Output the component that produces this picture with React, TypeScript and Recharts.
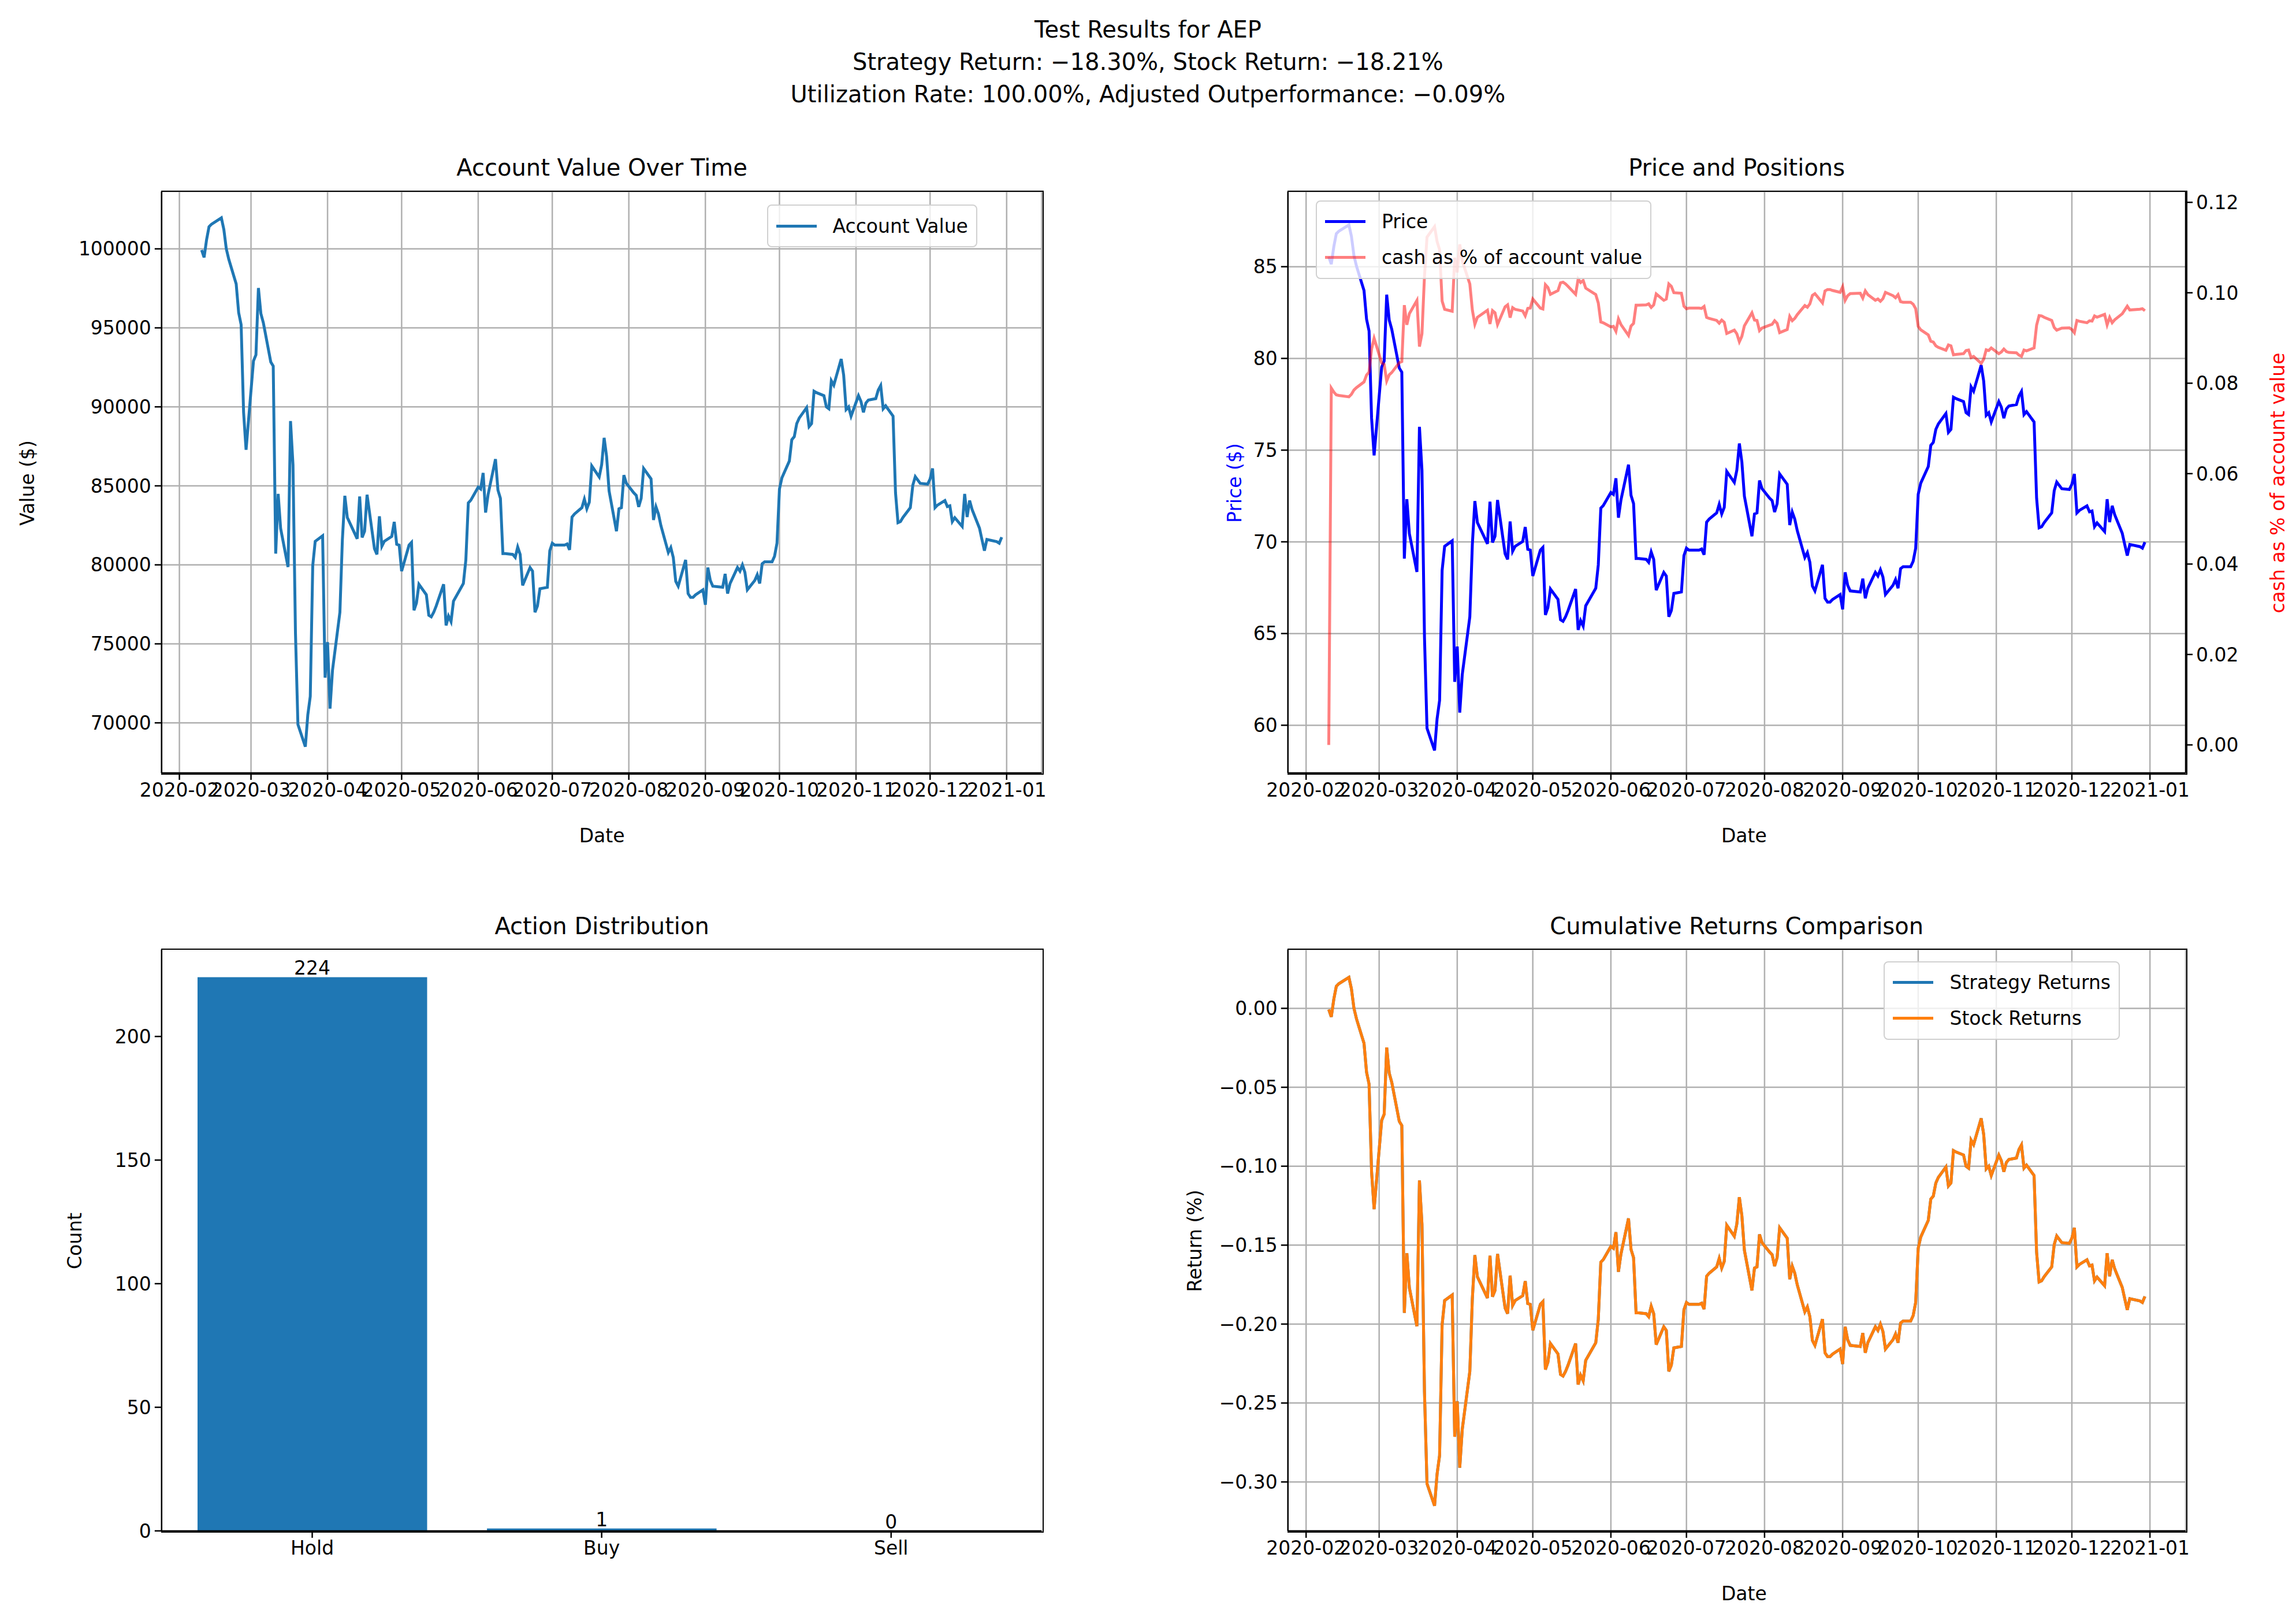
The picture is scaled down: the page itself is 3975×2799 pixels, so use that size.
import React from "react";
import {
  LineChart, Line, ComposedChart, Bar, XAxis, YAxis, CartesianGrid, LabelList,
} from "recharts";

// trading days and account value
const dates = [
  "2020-02-10","2020-02-11","2020-02-12","2020-02-13","2020-02-14","2020-02-18","2020-02-19","2020-02-20","2020-02-21",
  "2020-02-24","2020-02-25","2020-02-26","2020-02-27","2020-02-28",
  "2020-03-02","2020-03-03","2020-03-04","2020-03-05","2020-03-06","2020-03-09","2020-03-10","2020-03-11","2020-03-12","2020-03-13",
  "2020-03-16","2020-03-17","2020-03-18","2020-03-19","2020-03-20","2020-03-23","2020-03-24","2020-03-25","2020-03-26","2020-03-27",
  "2020-03-30","2020-03-31","2020-04-01","2020-04-02","2020-04-03","2020-04-06","2020-04-07","2020-04-08","2020-04-09",
  "2020-04-13","2020-04-14","2020-04-15","2020-04-16","2020-04-17","2020-04-20","2020-04-21","2020-04-22","2020-04-23","2020-04-24",
  "2020-04-27","2020-04-28","2020-04-29","2020-04-30","2020-05-01","2020-05-04","2020-05-05","2020-05-06","2020-05-07","2020-05-08",
  "2020-05-11","2020-05-12","2020-05-13","2020-05-14","2020-05-15","2020-05-18","2020-05-19","2020-05-20","2020-05-21","2020-05-22",
  "2020-05-26","2020-05-27","2020-05-28","2020-05-29","2020-06-01","2020-06-02","2020-06-03","2020-06-04","2020-06-05",
  "2020-06-08","2020-06-09","2020-06-10","2020-06-11","2020-06-12","2020-06-15","2020-06-16","2020-06-17","2020-06-18","2020-06-19",
  "2020-06-22","2020-06-23","2020-06-24","2020-06-25","2020-06-26","2020-06-29","2020-06-30","2020-07-01","2020-07-02",
  "2020-07-06","2020-07-07","2020-07-08","2020-07-09","2020-07-10","2020-07-13","2020-07-14","2020-07-15","2020-07-16","2020-07-17",
  "2020-07-20","2020-07-21","2020-07-22","2020-07-23","2020-07-24","2020-07-27","2020-07-28","2020-07-29","2020-07-30","2020-07-31",
  "2020-08-03","2020-08-04","2020-08-05","2020-08-06","2020-08-07","2020-08-10","2020-08-11","2020-08-12","2020-08-13","2020-08-14",
  "2020-08-17","2020-08-18","2020-08-19","2020-08-20","2020-08-21","2020-08-24","2020-08-25","2020-08-26","2020-08-27","2020-08-28",
  "2020-08-31","2020-09-01","2020-09-02","2020-09-03","2020-09-04","2020-09-08","2020-09-09","2020-09-10","2020-09-11",
  "2020-09-14","2020-09-15","2020-09-16","2020-09-17","2020-09-18","2020-09-21","2020-09-22","2020-09-23","2020-09-24","2020-09-25",
  "2020-09-28","2020-09-29","2020-09-30","2020-10-01","2020-10-02","2020-10-05","2020-10-06","2020-10-07","2020-10-08","2020-10-09",
  "2020-10-12","2020-10-13","2020-10-14","2020-10-15","2020-10-16","2020-10-19","2020-10-20","2020-10-21","2020-10-22","2020-10-23",
  "2020-10-26","2020-10-27","2020-10-28","2020-10-29","2020-10-30","2020-11-02","2020-11-03","2020-11-04","2020-11-05","2020-11-06",
  "2020-11-09","2020-11-10","2020-11-11","2020-11-12","2020-11-13","2020-11-16","2020-11-17","2020-11-18","2020-11-19","2020-11-20",
  "2020-11-23","2020-11-24","2020-11-25","2020-11-27","2020-11-30","2020-12-01","2020-12-02","2020-12-03","2020-12-04",
  "2020-12-07","2020-12-08","2020-12-09","2020-12-10","2020-12-11","2020-12-14","2020-12-15","2020-12-16","2020-12-17","2020-12-18",
  "2020-12-21","2020-12-22","2020-12-23","2020-12-24","2020-12-28","2020-12-29","2020-12-30",
];

const accountValue = [
  99930, 99460, 100570, 101400, 101560, 101960, 101230, 100000, 99340,
  97780, 95960, 95200, 89650, 87280,
  92900, 93290, 97520, 95900, 95320, 92840, 92580, 80710, 84490, 82300,
  79860, 89100, 86330, 75700, 69900, 68490, 70500, 71680, 79950, 81490,
  81840, 72860, 75110, 70900, 73330, 77000, 81600, 84370, 83000,
  81650, 84330, 81730, 82130, 84440, 81020, 80660, 83070, 81180, 81490,
  81800, 82720, 81300, 81250, 79600, 81250, 81420, 77120, 77590, 78770,
  78110, 76810, 76710, 77000, 77400, 78770, 76170, 76760, 76410, 77700,
  78820, 80310, 83920, 84090, 84920, 84800, 85820, 83310, 84440,
  86690, 84730, 84210, 80710, 80710, 80660, 80470, 81130, 80660, 78700,
  79830, 79600, 77000, 77400, 78490, 78580, 80900, 81370, 81250,
  81250, 81320, 80950, 83030, 83220, 83620, 84160, 83550, 83970, 86260,
  85560, 86340, 88040, 86860, 84680, 82130, 83550, 83620, 85680, 85160,
  84560, 84400, 83670, 84210, 86100, 85440, 82840, 83670, 83220, 82480,
  80780, 81090, 80470, 78960, 78650, 80310, 78180, 77940, 77940, 78100,
  78420, 77470, 79830, 79010, 78650, 78580, 79430, 78180, 78820,
  79830, 79600, 80000, 79530, 78420, 79010, 79370, 78820, 80070, 80190,
  80190, 80540, 81370, 84800, 85510, 86570, 87920, 88110, 88940, 89290,
  89950, 88750, 88940, 90990, 90900, 90710, 90000, 89880, 91650, 91370,
  93030, 92010, 89830, 90000, 89410, 90710, 90350, 89650, 90240, 90430,
  90520, 91060, 91350, 89880, 90070, 89410, 84560, 82670, 82740, 83000,
  83620, 85040, 85580, 85160, 85110, 85440, 86100, 83620, 83780,
  84070, 83690, 83740, 82740, 82980, 82430, 84490, 83030, 84070, 83500,
  82320, 81600, 80900, 81610, 81470, 81370, 81750,
];

const startCapital = 100000;
const startPrice = 85.6;
const cashHeld = 7850; // cash line = fixed cash / account value

const actions = ["Hold", "Buy", "Sell"];
const actionCounts = [224, 1, 0];

const monthTicks = [
  "2020-02-01","2020-03-01","2020-04-01","2020-05-01","2020-06-01","2020-07-01",
  "2020-08-01","2020-09-01","2020-10-01","2020-11-01","2020-12-01","2021-01-01",
];
const valueTicks = [70000, 75000, 80000, 85000, 90000, 95000, 100000];
const priceTicks = [60, 65, 70, 75, 80, 85];
const cashTicks = [0, 0.02, 0.04, 0.06, 0.08, 0.1, 0.12];
const countTicks = [0, 50, 100, 150, 200];
const returnTicks = [-0.3, -0.25, -0.2, -0.15, -0.1, -0.05, 0];

const ts = (d: string) => Date.parse(d + "T00:00:00Z");
const series = dates.map((d, i) => {
  const v = accountValue[i];
  const r = v / startCapital - 1;
  return {
    t: ts(d),
    value: v,
    price: startPrice * (1 + r),
    cash: i === 0 ? 0 : cashHeld / v,
    strategy: r,
    stock: r,
  };
});
const barData = actions.map((a, i) => ({ name: a, count: actionCounts[i] }));

const DAY = 86400000;
const xDomain = [ts(dates[0]) - 16.2 * DAY, ts(dates[dates.length - 1]) + 16.2 * DAY];
const xTicks = monthTicks.map(ts);
const fmtMonth = (t: number) => new Date(t).toISOString().slice(0, 7);

const S = 2.548;
const FONT = "DejaVu Sans, sans-serif";
const TICK = { fontSize: 33, fill: "#000", fontFamily: FONT };
const GRID = "#b0b0b0";
const BLUE = "#1f77b4";
const ORANGE = "#ff7f0e";
const minus = (s: string) => s.replace("-", "\u2212");

type Box = { l: number; t: number; r: number; b: number };
const TL: Box = { l: 110, t: 130, r: 708, b: 525 };
const TR: Box = { l: 875, t: 130, r: 1485, b: 525 };
const BL: Box = { l: 110, t: 645, r: 708, b: 1040 };
const BR: Box = { l: 875, t: 645, r: 1485, b: 1040 };

const LEFTW = 100, TOPPAD = 10, BOTH = 40, RIGHTW = 70;

function frame(b: Box, rightAxis = false) {
  const w = LEFTW + (b.r - b.l) + (rightAxis ? RIGHTW : 10);
  const h = TOPPAD + (b.b - b.t) + BOTH;
  return {
    style: { position: "absolute" as const, left: (b.l - LEFTW) * S, top: (b.t - TOPPAD) * S },
    width: w * S,
    height: h * S,
    margin: { top: TOPPAD * S, right: rightAxis ? 0 : 10 * S, left: 0, bottom: 0 },
  };
}

const Spine = ({ b }: { b: Box }) => (
  <div style={{
    position: "absolute", left: b.l * S - 1, top: b.t * S - 1,
    width: (b.r - b.l) * S, height: (b.b - b.t) * S,
    border: "2.5px solid #000", pointerEvents: "none",
  }} />
);

const Text = ({ x, y, children, size = 33, rotate = 0, color = "#000", lh = 1.25 }: any) => (
  <div style={{
    position: "absolute", left: x * S, top: y * S, fontSize: size, color, fontFamily: FONT,
    transform: `translate(-50%, -50%) rotate(${rotate}deg)`, whiteSpace: "nowrap", lineHeight: lh,
    textAlign: "center",
  }}>{children}</div>
);

const Legend = ({ x, y, items }: { x: number; y: number; items: { label: string; color: string; opacity?: number }[] }) => (
  <div style={{
    position: "absolute", left: x * S, top: y * S, background: "rgba(255,255,255,0.8)",
    border: "2px solid #d0d0d0", borderRadius: 8, padding: "4px 14px", fontFamily: FONT, fontSize: 33,
  }}>
    {items.map((it) => (
      <div key={it.label} style={{ display: "flex", alignItems: "center", height: 62 }}>
        <div style={{ width: 70, height: 5, background: it.color, opacity: it.opacity ?? 1, marginRight: 28 }} />
        <span>{it.label}</span>
      </div>
    ))}
  </div>
);

const timeAxis = (
  <XAxis dataKey="t" type="number" domain={xDomain} ticks={xTicks} tickFormatter={fmtMonth}
    interval={0} tick={TICK} tickSize={12} tickMargin={6} height={BOTH * S}
    stroke="#000" strokeWidth={2.5} allowDataOverflow />
);

export default function App() {
  const tl = frame(TL);
  const tr = frame(TR, true);
  const bl = frame(BL);
  const br = frame(BR);
  return (
    <div style={{ position: "relative", width: 3975, height: 2799, background: "#fff", overflow: "hidden" }}>
      <style>{"body{margin:0}"}</style>
      <Text x={780} y={42} size={40} lh={1.4}>
        Test Results for AEP<br />
        Strategy Return: {minus("-18.30%")}, Stock Return: {minus("-18.21%")}<br />
        Utilization Rate: 100.00%, Adjusted Outperformance: {minus("-0.09%")}
      </Text>

      {/* Account value */}
      <Text x={409} y={114} size={40}>Account Value Over Time</Text>
      <div style={tl.style}>
        <LineChart width={tl.width} height={tl.height} data={series} margin={tl.margin}>
          <CartesianGrid stroke={GRID} strokeWidth={2.5} />
          {timeAxis}
          <YAxis domain={[66830, 103630]} ticks={valueTicks} width={LEFTW * S} tick={TICK}
            tickSize={12} tickMargin={6} stroke="#000" strokeWidth={2.5} allowDataOverflow />
          <Line dataKey="value" stroke={BLUE} strokeWidth={5} dot={false} isAnimationActive={false} />
        </LineChart>
      </div>
      <Spine b={TL} />
      <Text x={409} y={568}>Date</Text>
      <Text x={19} y={328} rotate={-90}>Value ($)</Text>
      <Legend x={521} y={139} items={[{ label: "Account Value", color: BLUE }]} />

      {/* Price and cash */}
      <Text x={1180} y={114} size={40}>Price and Positions</Text>
      <div style={tr.style}>
        <LineChart width={tr.width} height={tr.height} data={series} margin={tr.margin}>
          <CartesianGrid stroke={GRID} strokeWidth={2.5} yAxisId="p" />
          {timeAxis}
          <YAxis yAxisId="p" domain={[57.4, 89.1]} ticks={priceTicks} width={LEFTW * S} tick={TICK}
            tickSize={12} tickMargin={6} stroke="#000" strokeWidth={2.5} allowDataOverflow />
          <YAxis yAxisId="c" orientation="right" domain={[-0.0062, 0.1224]} ticks={cashTicks}
            tickFormatter={(v: number) => v.toFixed(2)} width={RIGHTW * S} tick={TICK}
            tickSize={12} tickMargin={6} stroke="#000" strokeWidth={2.5} allowDataOverflow />
          <Line yAxisId="p" dataKey="price" stroke="#0000ff" strokeWidth={5} dot={false} isAnimationActive={false} />
          <Line yAxisId="c" dataKey="cash" stroke="#ff0000" strokeOpacity={0.5} strokeWidth={5} dot={false} isAnimationActive={false} />
        </LineChart>
      </div>
      <Spine b={TR} />
      <Text x={1185} y={568}>Date</Text>
      <Text x={839} y={328} rotate={-90} color="#0000ff">Price ($)</Text>
      <Text x={1548} y={328} rotate={-90} color="#ff0000">cash as % of account value</Text>
      <Legend x={894} y={136} items={[
        { label: "Price", color: "#0000ff" },
        { label: "cash as % of account value", color: "#ff0000", opacity: 0.5 },
      ]} />

      {/* Actions */}
      <Text x={409} y={629} size={40}>Action Distribution</Text>
      <div style={bl.style}>
        <ComposedChart width={bl.width} height={bl.height} data={barData} margin={bl.margin} barSize={156 * S}>
          <XAxis dataKey="name" tick={TICK} tickSize={12} tickMargin={6} height={BOTH * S}
            stroke="#000" strokeWidth={2.5} padding={{ left: 4 * S, right: 4 * S }} />
          <YAxis domain={[0, 235.2]} ticks={countTicks} width={LEFTW * S} tick={TICK}
            tickSize={12} tickMargin={6} stroke="#000" strokeWidth={2.5} allowDataOverflow />
          <Bar dataKey="count" fill={BLUE} isAnimationActive={false} />
          <Line dataKey="count" stroke="none" dot={false} activeDot={false} isAnimationActive={false}>
            <LabelList dataKey="count" position="top" offset={4} style={{ fontSize: 33, fill: "#000", fontFamily: FONT }} />
          </Line>
        </ComposedChart>
      </div>
      <Spine b={BL} />
      <Text x={51} y={843} rotate={-90}>Count</Text>

      {/* Returns */}
      <Text x={1180} y={629} size={40}>Cumulative Returns Comparison</Text>
      <div style={br.style}>
        <LineChart width={br.width} height={br.height} data={series} margin={br.margin}>
          <CartesianGrid stroke={GRID} strokeWidth={2.5} />
          {timeAxis}
          <YAxis domain={[-0.331, 0.0373]} ticks={returnTicks} tickFormatter={(v: number) => minus(v.toFixed(2))}
            width={LEFTW * S} tick={TICK} tickSize={12} tickMargin={6} stroke="#000" strokeWidth={2.5} allowDataOverflow />
          <Line dataKey="strategy" stroke={BLUE} strokeWidth={5} dot={false} isAnimationActive={false} />
          <Line dataKey="stock" stroke={ORANGE} strokeWidth={5} dot={false} isAnimationActive={false} />
        </LineChart>
      </div>
      <Spine b={BR} />
      <Text x={1185} y={1083}>Date</Text>
      <Text x={812} y={843} rotate={-90}>Return (%)</Text>
      <Legend x={1280} y={653} items={[
        { label: "Strategy Returns", color: BLUE },
        { label: "Stock Returns", color: ORANGE },
      ]} />
    </div>
  );
}
